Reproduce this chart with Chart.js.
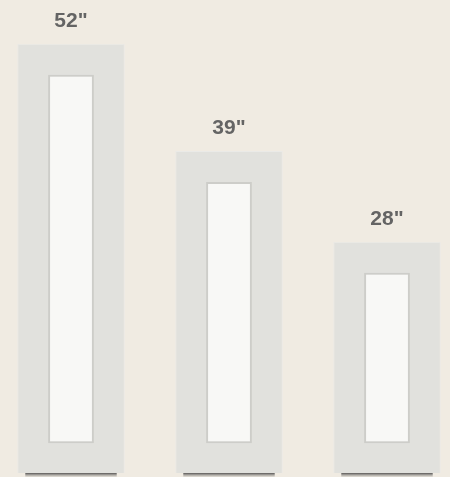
<!DOCTYPE html>
<html>
<head>
<meta charset="utf-8">
<script src="https://cdn.jsdelivr.net/npm/chart.js@4/dist/chart.umd.min.js"></script>
<style>
    html, body { margin: 0; padding: 0; background: #f0ebe2; overflow: hidden; }
    #wrap { width: 474px; height: 477px; margin-left: -8px; }
</style>
</head>
<body>
<div id="wrap"><canvas id="doorChart"></canvas></div>
<script>
const doorLabels = ['52"', '39"', '28"'];
const doorHeights = [52, 39, 28];

// rail width of the shaker frame, in inches
const railTop = 3.75;
const railBottom = 3.6;

const panelRanges = doorHeights.map(h => [railBottom, h - railTop]);

const labelPlugin = {
    id: 'doorLabels',
    beforeDatasetsDraw(chart) {
        const ctx = chart.ctx;
        const meta = chart.getDatasetMeta(0);
        ctx.save();
        meta.data.forEach(bar => {
            const w = bar.width;
            const grad = ctx.createLinearGradient(0, bar.base, 0, bar.base + 4);
            grad.addColorStop(0, 'rgba(60,60,60,0.85)');
            grad.addColorStop(1, 'rgba(120,120,120,0.1)');
            ctx.fillStyle = grad;
            ctx.fillRect(bar.x - w / 2 + 8, bar.base, w - 16, 4);
        });
        ctx.restore();
    },
    afterDatasetsDraw(chart) {
        const ctx = chart.ctx;
        const meta = chart.getDatasetMeta(0);
        ctx.save();
        ctx.font = 'bold 21px "Liberation Sans", Arial, sans-serif';
        ctx.fillStyle = '#646464';
        ctx.textAlign = 'center';
        ctx.textBaseline = 'middle';
        meta.data.forEach((bar, i) => {
            ctx.fillText(doorLabels[i], bar.x, bar.y - 23);
        });
        ctx.restore();
    }
};

new Chart(document.getElementById('doorChart').getContext('2d'), {
    type: 'bar',
    data: {
        labels: doorLabels,
        datasets: [{
            label: 'Door',
            data: doorHeights,
            backgroundColor: '#e1e1dd',
            borderColor: '#eaeae7',
            borderWidth: 1,
            borderSkipped: 'bottom',
            barPercentage: 0.68,
            categoryPercentage: 1,
            grouped: false,
            order: 2
        }, {
            label: 'Panel',
            data: panelRanges,
            backgroundColor: '#f8f8f6',
            borderColor: '#cdcdc9',
            borderWidth: 2,
            borderSkipped: false,
            barPercentage: 0.29,
            categoryPercentage: 1,
            grouped: false,
            order: 1
        }]
    },
    options: {
        responsive: true,
        maintainAspectRatio: false,
        animation: false,
        layout: { padding: { left: 0, right: 0, top: 0, bottom: 4 } },
        plugins: {
            legend: { display: false },
            tooltip: { enabled: false }
        },
        scales: {
            x: { display: false, offset: true },
            y: { display: false, min: 0, max: 57.3 }
        }
    },
    plugins: [labelPlugin]
});
</script>
</body>
</html>
